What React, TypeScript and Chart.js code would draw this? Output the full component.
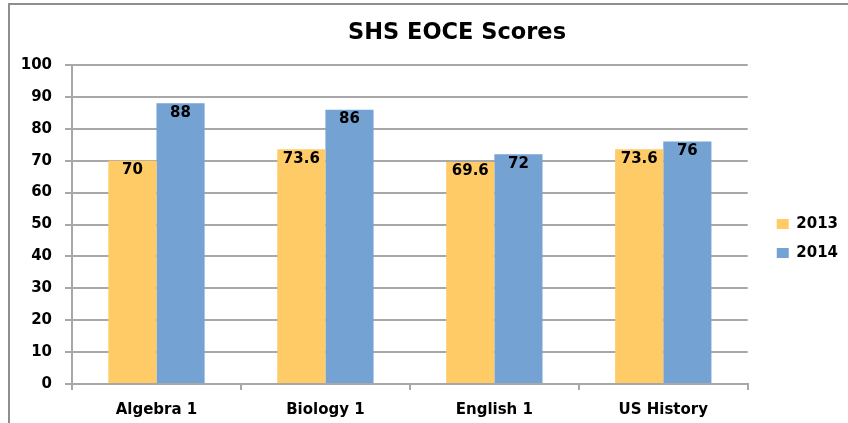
import React, { useEffect, useRef } from "react";
import { Chart, registerables } from "chart.js";

Chart.register(...registerables);

const TITLE = "SHS EOCE Scores";
const categories = ["Algebra 1", "Biology 1", "English 1", "US History"];
const seriesNames = ["2013", "2014"];
const values2013 = [70, 73.6, 69.6, 73.6];
const values2014 = [88, 86, 72, 76];
const seriesColors = ["#FECB66", "#74A2D3"];

const FONT = "'DejaVu Sans', sans-serif";
const GRID = "#a8a8a8";

const titlePlugin = {
  id: "customTitle",
  afterDraw(chart: any) {
    const ctx = chart.ctx;
    ctx.save();
    ctx.font = `bold 22.5px ${FONT}`;
    ctx.fillStyle = "#000";
    ctx.textAlign = "center";
    ctx.textBaseline = "middle";
    ctx.fillText(TITLE, 457, 33);
    ctx.restore();
  },
};

const valueLabelPlugin = {
  id: "valueLabels",
  afterDatasetsDraw(chart: any) {
    const ctx = chart.ctx;
    ctx.save();
    ctx.font = `bold 15px ${FONT}`;
    ctx.fillStyle = "#000";
    ctx.textAlign = "center";
    ctx.textBaseline = "middle";
    chart.data.datasets.forEach((ds: any, di: number) => {
      const meta = chart.getDatasetMeta(di);
      meta.data.forEach((bar: any, i: number) => {
        ctx.fillText(String(ds.data[i]), bar.x, bar.y + 9.5);
      });
    });
    ctx.restore();
  },
};

export default function App() {
  const ref = useRef<HTMLCanvasElement | null>(null);
  useEffect(() => {
    if (!ref.current) return;
    Chart.defaults.font.family = FONT;
    const chart = new Chart(ref.current, {
      type: "bar",
      data: {
        labels: categories,
        datasets: [
          {
            label: seriesNames[0],
            data: values2013,
            backgroundColor: seriesColors[0],
            borderWidth: 0,
            categoryPercentage: 0.57,
            barPercentage: 1,
          },
          {
            label: seriesNames[1],
            data: values2014,
            backgroundColor: seriesColors[1],
            borderWidth: 0,
            categoryPercentage: 0.57,
            barPercentage: 1,
          },
        ],
      },
      options: {
        responsive: false,
        animation: false,
        layout: { padding: { left: 20, right: 0, top: 59, bottom: 5 } },
        plugins: {
          title: { display: false },
          tooltip: { enabled: false },
          legend: {
            position: "right",
            align: "center",
            labels: {
              boxWidth: 12,
              boxHeight: 10,
              padding: 14,
              color: "#000",
              font: { family: FONT, size: 15, weight: "bold" },
            },
          },
        },
        scales: {
          x: {
            type: "category",
            grid: {
              display: true,
              drawOnChartArea: false,
              drawTicks: true,
              tickLength: 6,
              color: GRID,
              lineWidth: 2,
              offset: true,
            },
            border: { display: true, color: GRID, width: 2 },
            ticks: {
              color: "#000",
              padding: 11,
              font: { family: FONT, size: 15, weight: "bold" },
              maxRotation: 0,
            },
            afterFit(s: any) {
              s.height = 34;
            },
          },
          xTop: {
            type: "category",
            position: "top",
            display: true,
            grid: { display: false, drawTicks: false },
            border: { display: false },
            ticks: { display: false },
            afterFit(s: any) {
              s.height = 6;
            },
          },
          y: {
            type: "linear",
            min: 0,
            max: 100,
            grid: {
              color: GRID,
              lineWidth: 2,
              tickLength: 7,
              drawTicks: true,
            },
            border: { display: true, color: GRID, width: 2 },
            ticks: {
              stepSize: 10,
              color: "#000",
              padding: 13,
              font: { family: FONT, size: 15, weight: "bold" },
            },
            afterFit(s: any) {
              s.width = 52;
            },
          },
          yRight: {
            type: "linear",
            position: "right",
            display: true,
            grid: { display: false, drawTicks: false },
            border: { display: false },
            ticks: { display: false },
            afterFit(s: any) {
              s.width = 15;
            },
          },
        },
      },
      plugins: [titlePlugin, valueLabelPlugin],
    });
    return () => chart.destroy();
  }, []);

  return (
    <div
      style={{
        position: "fixed",
        left: 0,
        top: 0,
        width: 848,
        height: 423,
        overflow: "hidden",
        background: "#fff",
      }}
    >
      <div
        style={{
          position: "absolute",
          left: 8,
          top: 3,
          width: 900,
          height: 500,
          borderLeft: "2px solid #8e8e8e",
          borderTop: "2px solid #8e8e8e",
          boxSizing: "border-box",
        }}
      />
      <canvas
        ref={ref}
        width={848}
        height={423}
        style={{ position: "absolute", left: 0, top: 0, display: "block" }}
      />
    </div>
  );
}
